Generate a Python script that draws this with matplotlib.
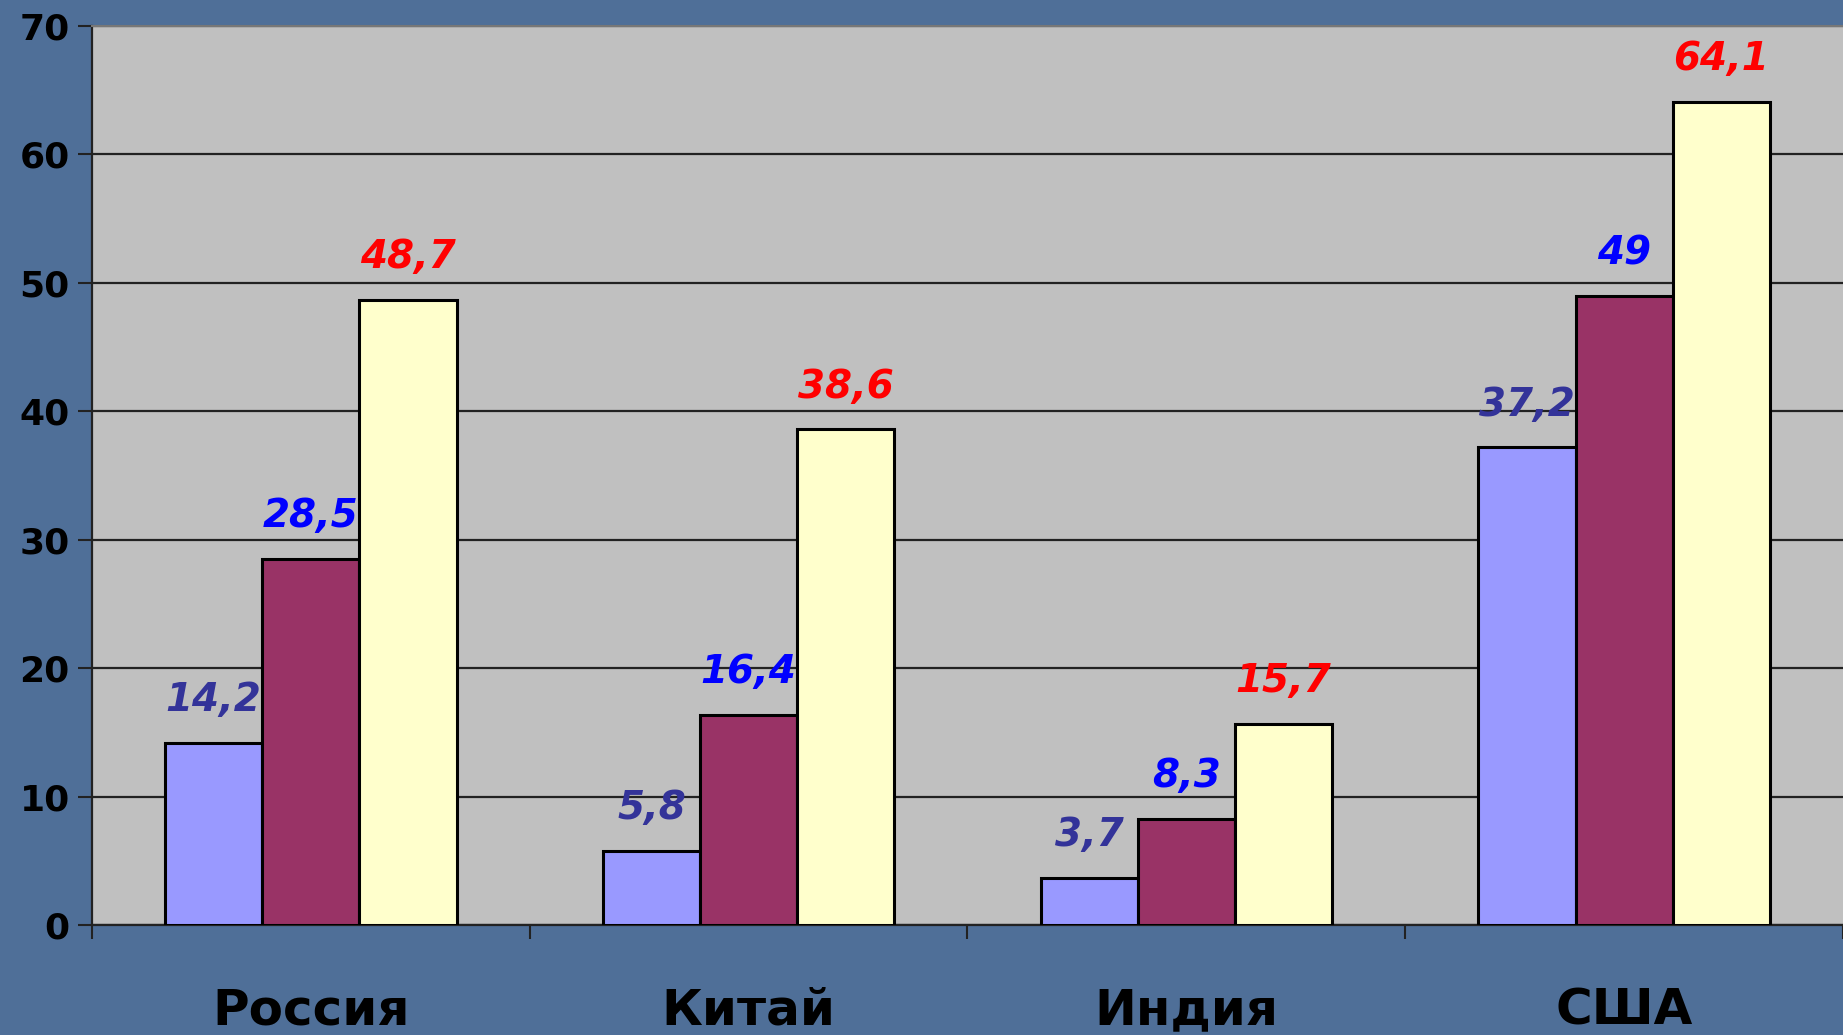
import matplotlib
matplotlib.use("Agg")
import matplotlib.pyplot as plt
import numpy as np

categories = ["Россия", "Китай", "Индия", "США"]
series1 = [14.2, 5.8, 3.7, 37.2]
series2 = [28.5, 16.4, 8.3, 49.0]
series3 = [48.7, 38.6, 15.7, 64.1]
yticks = [0, 10, 20, 30, 40, 50, 60, 70]

bar_colors = ["#9999FF", "#993366", "#FFFFCC"]
label_colors = ["#333399", "#0000FF", "#FF0000"]

def fmt(v):
    s = ("%.1f" % v).rstrip("0").rstrip(".")
    return s.replace(".", ",")

fig = plt.figure(figsize=(18.43, 10.35), dpi=100)
fig.patch.set_facecolor("#4F6F98")
ax = fig.add_axes([0.0499, 0.106, 0.9501, 0.869])
ax.set_facecolor("#C0C0C0")

x = np.arange(len(categories))
w = 0.222
for i, (vals, c, lc) in enumerate(zip([series1, series2, series3], bar_colors, label_colors)):
    pos = x + (i - 1) * w
    ax.bar(pos, vals, width=w, color=c, edgecolor="black", linewidth=2.2, zorder=3)
    for p, v in zip(pos, vals):
        ax.annotate(fmt(v), (p, v), xytext=(0, 17), textcoords="offset points",
                    ha="center", va="bottom", color=lc, fontsize=28,
                    fontweight="heavy", fontstyle="italic", zorder=4)

ax.set_xlim(-0.5, len(categories) - 0.5)
ax.set_ylim(0, 70)
ax.set_yticks(yticks)
ax.set_yticklabels([str(t) for t in yticks], fontsize=26, fontweight="bold", color="black")
ax.yaxis.grid(True, color="#222222", linewidth=1.6, zorder=1)
ax.set_axisbelow(True)

ax.set_xticks(x)
ax.set_xticklabels(categories, fontsize=36, fontweight="bold", color="black")
ax.set_xticks(np.arange(len(categories) + 1) - 0.5, minor=True)
ax.tick_params(axis="x", which="major", length=0, pad=44)
ax.tick_params(axis="x", which="minor", length=10, width=1.5, direction="out", color="#222222")
ax.tick_params(axis="y", length=10, width=1.5, direction="out", color="#222222", pad=6)

for s in ["left", "bottom"]:
    ax.spines[s].set_color("#222222")
    ax.spines[s].set_linewidth(1.6)
ax.spines["top"].set_color("#777777")
ax.spines["top"].set_linewidth(1.5)
ax.spines["right"].set_visible(False)

fig.savefig("out.png", dpi=100, facecolor=fig.get_facecolor())
